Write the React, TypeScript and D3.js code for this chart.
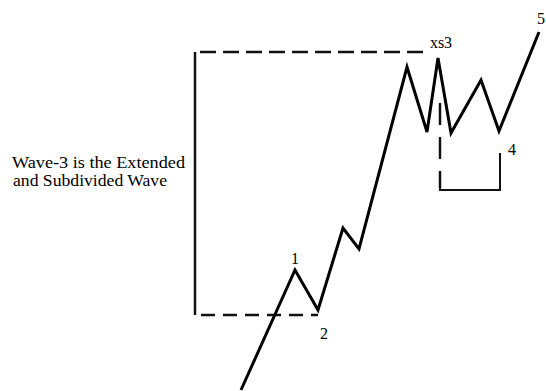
import * as d3 from "d3";

// wave path: time index vs price (price grows upward)
const waveTime = [241, 295, 318, 343, 359, 407, 427, 438, 451, 481, 499, 539];
const wavePrice = [1, 121, 81, 163, 142, 324, 259, 333, 258, 311, 260, 359];

// bracket spanning wave 3 (dashed)
const bracketTime = [423, 195, 195, 318];
const bracketPrice = [339, 339, 76, 76];

// wave 4 overlap marker
const markerDashTime = [440, 440];
const markerDashPrice = [288, 203];
const markerTime = [440, 440, 500, 500];
const markerPrice = [210, 201, 201, 238];

const waveLabels = ["1", "2", "xs3", "4", "5"];
const labelTime = [295, 324, 441, 512, 541];
const labelPrice = [133, 58, 349, 242, 373];

const noteLines = ["Wave-3 is the Extended", "and Subdivided Wave"];

const W = 546;
const H = 391;
const serif = { fontFamily: "Liberation Serif, Times New Roman, serif" };

export default function App() {
  const x = d3.scaleLinear().domain([0, W]).range([0, W]);
  const y = d3.scaleLinear().domain([0, H]).range([H, 0]);

  const line = d3
    .line<number>()
    .x((_, i) => x(waveTime[i]))
    .y((d) => y(d));

  const bracket = d3
    .line<number>()
    .x((_, i) => x(bracketTime[i]))
    .y((d) => y(d));

  const dashV = d3
    .line<number>()
    .x((_, i) => x(markerDashTime[i]))
    .y((d) => y(d));

  const marker = d3
    .line<number>()
    .x((_, i) => x(markerTime[i]))
    .y((d) => y(d));

  return (
    <svg
      width={W}
      height={H}
      style={{ position: "absolute", left: 0, top: 0, background: "#fff" }}
    >
      {/* left vertical is solid, the two horizontals dashed */}
      <path
        d={`M${x(bracketTime[1])},${y(bracketPrice[1])}V${y(bracketPrice[2])}`}
        stroke="#111"
        strokeWidth={2.5}
        fill="none"
      />
      <path
        d={bracket(bracketPrice.slice(0, 2)) ?? ""}
        stroke="#111"
        strokeWidth={2.5}
        strokeDasharray="16 7"
        fill="none"
      />
      <path
        d={`M${x(bracketTime[2])},${y(bracketPrice[2])}H${x(bracketTime[3])}`}
        stroke="#111"
        strokeWidth={2.5}
        strokeDasharray="14 8"
        strokeDashoffset={-6}
        fill="none"
      />
      <path
        d={dashV(markerDashPrice) ?? ""}
        stroke="#111"
        strokeWidth={2.5}
        strokeDasharray="22 12"
        fill="none"
      />
      <path
        d={marker(markerPrice) ?? ""}
        stroke="#111"
        strokeWidth={2}
        fill="none"
      />
      <path
        d={line(wavePrice) ?? ""}
        stroke="#000"
        strokeWidth={3}
        strokeLinejoin="miter"
        fill="none"
      />
      {waveLabels.map((t, i) => (
        <text
          key={t}
          x={x(labelTime[i])}
          y={y(labelPrice[i])}
          textAnchor="middle"
          dominantBaseline="central"
          fontSize={16}
          fill="#000"
          style={serif}
        >
          {t}
        </text>
      ))}
      <text x={12} y={168} fontSize={16} fill="#000" style={serif} textLength={173} lengthAdjust="spacingAndGlyphs">
        {noteLines[0]}
      </text>
      <text x={13} y={186} fontSize={16} fill="#000" style={serif} textLength={154} lengthAdjust="spacingAndGlyphs">
        {noteLines[1]}
      </text>
    </svg>
  );
}
